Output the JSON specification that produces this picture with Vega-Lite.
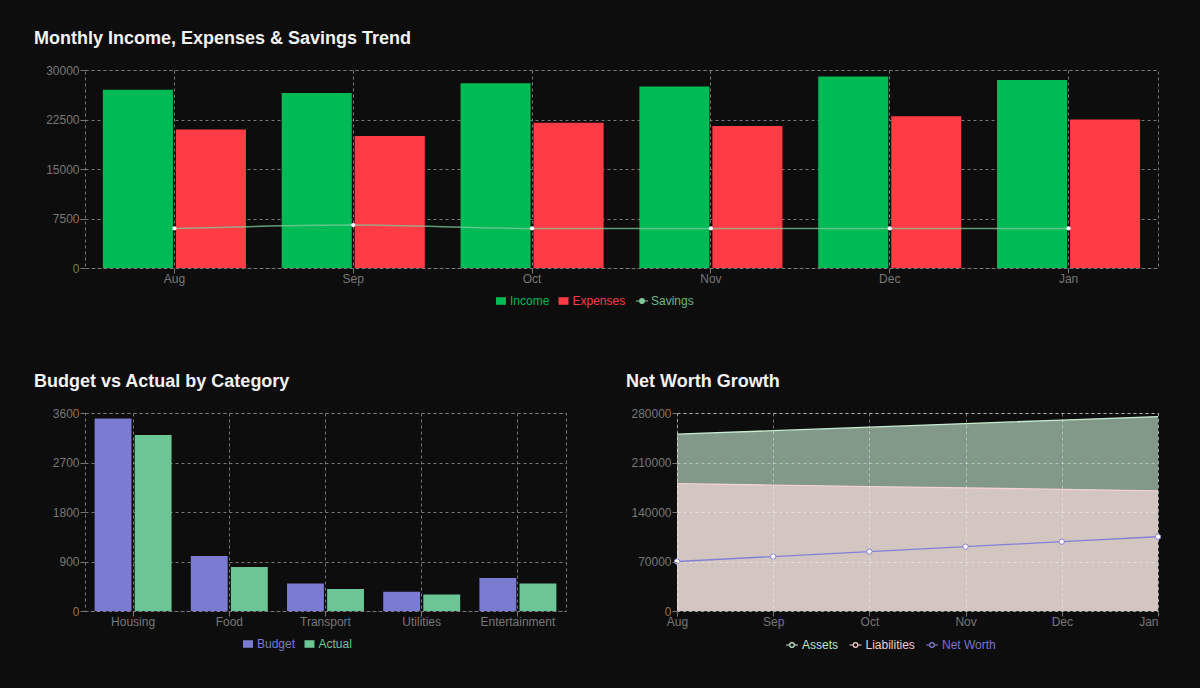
{
  "$schema": "https://vega.github.io/schema/vega-lite/v6.json",
  "background": "#0d0d0d",
  "padding": {"left": 33, "top": 29, "right": 37, "bottom": 36},
  "spacing": 64,
  "resolve": {
    "scale": {"x": "independent", "y": "independent", "xOffset": "independent", "color": "independent"},
    "axis": {"x": "independent", "y": "independent"},
    "legend": {"color": "independent"}
  },
  "config": {
    "font": "Liberation Sans",
    "view": {"stroke": "#777777", "strokeDash": [3, 3], "strokeWidth": 1},
    "axis": {
      "domain": false,
      "grid": true,
      "gridColor": "#777777",
      "gridDash": [3, 3],
      "gridWidth": 1,
      "tickColor": "#777777",
      "tickSize": 5,
      "labelColor": "#777777",
      "labelFontSize": 12
    },
    "axisX": {"labelPadding": 0, "labelAngle": 0},
    "axisY": {"labelPadding": 1, "format": "d"},
    "title": {
      "color": "#f2f2f2",
      "fontSize": 18,
      "fontWeight": "bold",
      "anchor": "start",
      "frame": "group",
      "dx": -51,
      "offset": 16
    },
    "legend": {
      "orient": "none",
      "direction": "horizontal",
      "legendY": 225,
      "title": null,
      "labelFontSize": 12,
      "padding": 0,
      "symbolSize": 144,
      "labelOffset": 3,
      "columnPadding": 7.5
    }
  },
  "vconcat": [
    {
      "title": "Monthly Income, Expenses & Savings Trend",
      "width": 1073,
      "height": 198,
      "data": {
        "values": [
          {"month": "Aug", "series": "Income", "amount": 27000},
          {"month": "Aug", "series": "Expenses", "amount": 21000},
          {"month": "Aug", "series": "Savings", "amount": 6000},
          {"month": "Sep", "series": "Income", "amount": 26500},
          {"month": "Sep", "series": "Expenses", "amount": 20000},
          {"month": "Sep", "series": "Savings", "amount": 6500},
          {"month": "Oct", "series": "Income", "amount": 28000},
          {"month": "Oct", "series": "Expenses", "amount": 22000},
          {"month": "Oct", "series": "Savings", "amount": 6000},
          {"month": "Nov", "series": "Income", "amount": 27500},
          {"month": "Nov", "series": "Expenses", "amount": 21500},
          {"month": "Nov", "series": "Savings", "amount": 6000},
          {"month": "Dec", "series": "Income", "amount": 29000},
          {"month": "Dec", "series": "Expenses", "amount": 23000},
          {"month": "Dec", "series": "Savings", "amount": 6000},
          {"month": "Jan", "series": "Income", "amount": 28500},
          {"month": "Jan", "series": "Expenses", "amount": 22500},
          {"month": "Jan", "series": "Savings", "amount": 6000}
        ]
      },
      "encoding": {
        "x": {
          "field": "month",
          "type": "nominal",
          "sort": ["Aug", "Sep", "Oct", "Nov", "Dec", "Jan"],
          "scale": {"paddingInner": 0.2, "paddingOuter": 0.1},
          "axis": {"title": null}
        }
      },
      "layer": [
        {
          "transform": [{"filter": "datum.series !== 'Savings'"}],
          "mark": {"type": "bar"},
          "encoding": {
            "xOffset": {"field": "series", "type": "nominal", "sort": ["Income", "Expenses"], "scale": {"paddingInner": 0.04}},
            "y": {
              "field": "amount",
              "type": "quantitative",
              "scale": {"domain": [0, 30000], "nice": false},
              "axis": {
                "title": null,
                "values": [0, 7500, 15000, 22500, 30000],
                "encode": {"labels": {"update": {"dy": {"signal": "datum.value === 30000 ? 6 : 0"}}}}
              }
            },
            "color": {
              "field": "series",
              "type": "nominal",
              "scale": {"domain": ["Income", "Expenses", "Savings"], "range": ["#00bb55", "#ff3b45", "#82ca9d"]},
              "legend": {
                "legendX": 410,
                "encode": {
                  "symbols": {
                    "update": {
                      "shape": {"signal": "datum.label === 'Savings' ? 'M-1,0H-0.38M0.38,0H1M-0.38,0A0.38,0.38 0 1,1 0.38,0A0.38,0.38 0 1,1 -0.38,0' : 'M-0.83,-0.63H0.83V0.63H-0.83Z'"},
                      "fill": {"signal": "datum.label === 'Income' ? '#00bb55' : datum.label === 'Expenses' ? '#ff3b45' : '#0d0d0d'"},
                      "stroke": {"signal": "datum.label === 'Income' ? '#00bb55' : datum.label === 'Expenses' ? '#ff3b45' : '#6db58a'"},
                      "strokeWidth": {"signal": "datum.label === 'Savings' ? 1.2 : 0"},
                      "opacity": {"value": 1},
                      "fillOpacity": {"value": 1},
                      "strokeOpacity": {"value": 1}
                    }
                  },
                  "labels": {
                    "update": {
                      "fill": {"signal": "datum.label === 'Income' ? '#00bb55' : datum.label === 'Expenses' ? '#ff3b45' : '#6db58a'"}
                    }
                  }
                }
              }
            }
          }
        },
        {
          "transform": [{"filter": "datum.series === 'Savings'"}],
          "mark": {"type": "line", "interpolate": "monotone", "strokeWidth": 1.5, "opacity": 0.75},
          "encoding": {
            "y": {"field": "amount", "type": "quantitative"},
            "color": {"field": "series", "type": "nominal"}
          }
        },
        {
          "transform": [{"filter": "datum.series === 'Savings'"}],
          "mark": {"type": "point", "filled": true, "fill": "#ffffff", "size": 18, "opacity": 1},
          "encoding": {
            "y": {"field": "amount", "type": "quantitative"}
          }
        }
      ]
    },
    {
      "spacing": 58,
      "resolve": {
        "scale": {"x": "independent", "y": "independent", "xOffset": "independent", "color": "independent"},
        "axis": {"x": "independent", "y": "independent"},
        "legend": {"color": "independent"}
      },
      "hconcat": [
        {
          "title": "Budget vs Actual by Category",
          "width": 481,
          "height": 198,
          "data": {
            "values": [
              {"category": "Housing", "series": "Budget", "amount": 3500},
              {"category": "Housing", "series": "Actual", "amount": 3200},
              {"category": "Food", "series": "Budget", "amount": 1000},
              {"category": "Food", "series": "Actual", "amount": 800},
              {"category": "Transport", "series": "Budget", "amount": 500},
              {"category": "Transport", "series": "Actual", "amount": 400},
              {"category": "Utilities", "series": "Budget", "amount": 350},
              {"category": "Utilities", "series": "Actual", "amount": 300},
              {"category": "Entertainment", "series": "Budget", "amount": 600},
              {"category": "Entertainment", "series": "Actual", "amount": 500}
            ]
          },
          "mark": {"type": "bar"},
          "encoding": {
            "x": {
              "field": "category",
              "type": "nominal",
              "sort": ["Housing", "Food", "Transport", "Utilities", "Entertainment"],
              "scale": {"paddingInner": 0.2, "paddingOuter": 0.1},
              "axis": {"title": null}
            },
            "xOffset": {"field": "series", "type": "nominal", "sort": ["Budget", "Actual"], "scale": {"paddingInner": 0.08}},
            "y": {
              "field": "amount",
              "type": "quantitative",
              "scale": {"domain": [0, 3600], "nice": false},
              "axis": {
                "title": null,
                "values": [0, 900, 1800, 2700, 3600],
                "encode": {"labels": {"update": {"dy": {"signal": "datum.value === 3600 ? 6 : 0"}}}}
              }
            },
            "color": {
              "field": "series",
              "type": "nominal",
              "scale": {"domain": ["Budget", "Actual"], "range": ["#7b7bd1", "#6cc594"]},
              "legend": {
                "legendX": 157,
                "encode": {
                  "symbols": {
                    "update": {
                      "shape": {"value": "M-0.83,-0.63H0.83V0.63H-0.83Z"},
                      "strokeWidth": {"value": 0},
                      "opacity": {"value": 1}
                    }
                  },
                  "labels": {
                    "update": {"fill": {"signal": "datum.label === 'Budget' ? '#7b7bd1' : '#6cc594'"}}
                  }
                }
              }
            }
          }
        },
        {
          "title": "Net Worth Growth",
          "width": 481,
          "height": 198,
          "data": {
            "values": [
              {"month": "Aug", "series": "Assets", "value": 250000},
              {"month": "Aug", "series": "Liabilities", "value": 180000},
              {"month": "Aug", "series": "Net Worth", "value": 70000},
              {"month": "Sep", "series": "Assets", "value": 255000},
              {"month": "Sep", "series": "Liabilities", "value": 178000},
              {"month": "Sep", "series": "Net Worth", "value": 77000},
              {"month": "Oct", "series": "Assets", "value": 260000},
              {"month": "Oct", "series": "Liabilities", "value": 176000},
              {"month": "Oct", "series": "Net Worth", "value": 84000},
              {"month": "Nov", "series": "Assets", "value": 265000},
              {"month": "Nov", "series": "Liabilities", "value": 174000},
              {"month": "Nov", "series": "Net Worth", "value": 91000},
              {"month": "Dec", "series": "Assets", "value": 270000},
              {"month": "Dec", "series": "Liabilities", "value": 172000},
              {"month": "Dec", "series": "Net Worth", "value": 98000},
              {"month": "Jan", "series": "Assets", "value": 275000},
              {"month": "Jan", "series": "Liabilities", "value": 170000},
              {"month": "Jan", "series": "Net Worth", "value": 105000}
            ]
          },
          "encoding": {
            "x": {
              "field": "month",
              "type": "ordinal",
              "sort": ["Aug", "Sep", "Oct", "Nov", "Dec", "Jan"],
              "scale": {"type": "point", "padding": 0},
              "axis": {
                "title": null,
                "zindex": 1,
                "gridColor": "#ffffff",
                "gridOpacity": 0.42,
                "labelAlign": {"condition": {"test": "datum.label === 'Jan'", "value": "right"}, "value": "center"}
              }
            }
          },
          "layer": [
            {
              "transform": [{"filter": "datum.series === 'Assets'"}],
              "mark": {"type": "area", "fill": "#d0f6dd", "fillOpacity": 0.6},
              "encoding": {
                "y": {
                  "field": "value",
                  "type": "quantitative",
                  "stack": null,
                  "scale": {"domain": [0, 280000], "nice": false},
                  "axis": {
                    "title": null,
                    "zindex": 1,
                    "gridColor": "#ffffff",
                    "gridOpacity": 0.42,
                    "values": [0, 70000, 140000, 210000, 280000],
                    "encode": {"labels": {"update": {"dy": {"signal": "datum.value === 280000 ? 6 : 0"}}}}
                  }
                }
              }
            },
            {
              "transform": [{"filter": "datum.series === 'Liabilities'"}],
              "mark": {"type": "area", "fill": "#f2d6d5", "fillOpacity": 0.72},
              "encoding": {
                "y": {"field": "value", "type": "quantitative", "stack": null}
              }
            },
            {
              "mark": {"type": "line", "strokeWidth": 1.3},
              "encoding": {
                "y": {"field": "value", "type": "quantitative"},
                "color": {
                  "field": "series",
                  "type": "nominal",
                  "scale": {"domain": ["Assets", "Liabilities", "Net Worth"], "range": ["#c8ecd2", "#f5d2d2", "#8480d8"]},
                  "legend": {
                    "legendX": 108,
                    "encode": {
                      "symbols": {
                        "update": {
                          "shape": {"value": "M-1,0H-0.38M0.38,0H1M-0.38,0A0.38,0.38 0 1,1 0.38,0A0.38,0.38 0 1,1 -0.38,0"},
                          "fill": {"value": "#0d0d0d"},
                          "stroke": {"signal": "datum.label === 'Assets' ? '#bee6cd' : datum.label === 'Liabilities' ? '#f0cdcd' : '#7873d2'"},
                          "strokeWidth": {"value": 1.2},
                          "opacity": {"value": 1}
                        }
                      },
                      "labels": {
                        "update": {"fill": {"signal": "datum.label === 'Assets' ? '#bee6cd' : datum.label === 'Liabilities' ? '#f0cdcd' : '#7873d2'"}}
                      }
                    }
                  }
                }
              }
            },
            {
              "transform": [{"filter": "datum.series === 'Net Worth'"}],
              "mark": {"type": "point", "filled": true, "fill": "#ffffff", "stroke": "#8480d8", "strokeWidth": 1, "size": 28, "opacity": 1},
              "encoding": {
                "y": {"field": "value", "type": "quantitative"}
              }
            }
          ]
        }
      ]
    }
  ]
}
